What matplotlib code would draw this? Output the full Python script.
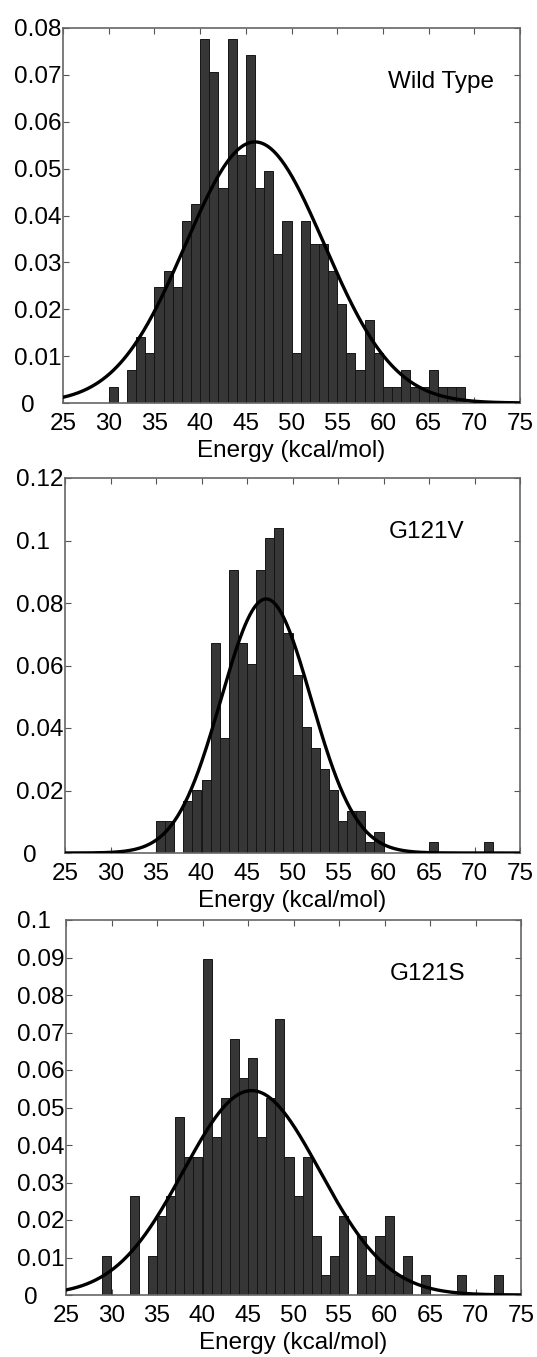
import numpy as np
import matplotlib
matplotlib.use("Agg")
import matplotlib.pyplot as plt
import matplotlib.ticker as ticker

plt.rcParams['font.family'] = ['Liberation Sans', 'DejaVu Sans']

# histogram bins are 1 kcal/mol wide, listed by their left edge
wt_edges = list(range(30, 69))
wt_freq = [0.0035, 0.0, 0.0071, 0.0141, 0.0106, 0.0247, 0.0282, 0.0247,
           0.0389, 0.0424, 0.0777, 0.0707, 0.0459, 0.0777, 0.0530, 0.0742,
           0.0459, 0.0495, 0.0318, 0.0389, 0.0106, 0.0389, 0.0339, 0.0339,
           0.0282, 0.0212, 0.0106, 0.0071, 0.0177, 0.0106, 0.0035, 0.0035,
           0.0071, 0.0035, 0.0035, 0.0071, 0.0035, 0.0035, 0.0035]

v_edges = list(range(35, 72))
v_freq = [0.0101, 0.0101, 0.0, 0.0168, 0.0201, 0.0235, 0.0671, 0.0369,
          0.0906, 0.0671, 0.0604, 0.0906, 0.1007, 0.1040, 0.0705, 0.0570,
          0.0403, 0.0336, 0.0269, 0.0201, 0.0101, 0.0134, 0.0134, 0.0034,
          0.0067, 0.0, 0.0, 0.0, 0.0, 0.0, 0.0034, 0.0, 0.0, 0.0, 0.0, 0.0,
          0.0034]

s_edges = list(range(29, 73))
s_freq = [0.0105, 0.0, 0.0, 0.0263, 0.0, 0.0105, 0.0211, 0.0263, 0.0474,
          0.0368, 0.0368, 0.0895, 0.0421, 0.0526, 0.0684, 0.0579, 0.0632,
          0.0421, 0.0526, 0.0737, 0.0368, 0.0263, 0.0368, 0.0158, 0.0053,
          0.0105, 0.0211, 0.0, 0.0158, 0.0053, 0.0158, 0.0211, 0.0053,
          0.0105, 0.0, 0.0053, 0.0, 0.0, 0.0, 0.0053, 0.0, 0.0, 0.0, 0.0053]

# gaussian fit drawn over each histogram: (mean, std, peak height)
wt_fit = (46.0, 7.6, 0.0557)
v_fit = (47.1, 4.95, 0.0813)
s_fit = (45.4, 7.5, 0.0545)

x_ticks = [25, 30, 35, 40, 45, 50, 55, 60, 65, 70, 75]
wt_yticks = [0, 0.01, 0.02, 0.03, 0.04, 0.05, 0.06, 0.07, 0.08]
v_yticks = [0, 0.02, 0.04, 0.06, 0.08, 0.1, 0.12]
s_yticks = [0, 0.01, 0.02, 0.03, 0.04, 0.05, 0.06, 0.07, 0.08, 0.09, 0.1]

names = ["Wild Type", "G121V", "G121S"]


def g_format(value, _):
    """
    MATLAB-like %g tick labels, padded like a fixed width column
    """
    text = f"{value:g}"
    if value == 0:
        return text + "\u2007\u2007"
    if len(text) == 3:
        return text + "\u2007"
    return text


def draw_panel(ax, edges, freq, fit, yticks, name):
    """
    One histogram with its fitted normal curve
    """
    ax.bar(edges, freq, width=1.0, align='edge', color='#363636',
           edgecolor='#151515', linewidth=0.7, zorder=2)

    mu, sd, peak = fit
    xs = np.linspace(25, 75, 400)
    ax.plot(xs, peak * np.exp(-(xs - mu) ** 2 / (2 * sd ** 2)),
            color='black', linewidth=2.4, zorder=3)

    ax.set_xlim(25, 75)
    ax.set_ylim(yticks[0], yticks[-1])
    ax.set_xticks(x_ticks)
    ax.set_yticks(yticks)
    ax.yaxis.set_major_formatter(ticker.FuncFormatter(g_format))
    ax.tick_params(direction='in', top=True, right=True, length=4,
                   width=0.8, color='#555555', labelsize=17.5)
    ax.tick_params(axis='x', pad=7)
    ax.tick_params(axis='y', pad=1)
    for spine in ax.spines.values():
        spine.set_color('#666666')
        spine.set_linewidth(1.2)

    ax.set_xlabel("Energy (kcal/mol)", fontsize=17.5, labelpad=4)
    ax.text(60.6, 0.857, name, transform=ax.get_xaxis_transform(),
            ha='left', va='center', fontsize=17.5)


def main():
    fig = plt.figure(figsize=(5.37, 13.57), dpi=100)
    W, H = 537.0, 1357.0
    boxes = [(63, 520, 28, 403), (65, 520, 478, 853), (66, 521, 920, 1295)]
    data = [(wt_edges, wt_freq, wt_fit, wt_yticks),
            (v_edges, v_freq, v_fit, v_yticks),
            (s_edges, s_freq, s_fit, s_yticks)]

    for (l, r, t, b), (edges, freq, fit, yt), name in zip(boxes, data, names):
        ax = fig.add_axes([l / W, 1 - b / H, (r - l) / W, (b - t) / H])
        draw_panel(ax, edges, freq, fit, yt, name)

    fig.savefig("out.png", dpi=100)


if __name__ == "__main__":
    main()
